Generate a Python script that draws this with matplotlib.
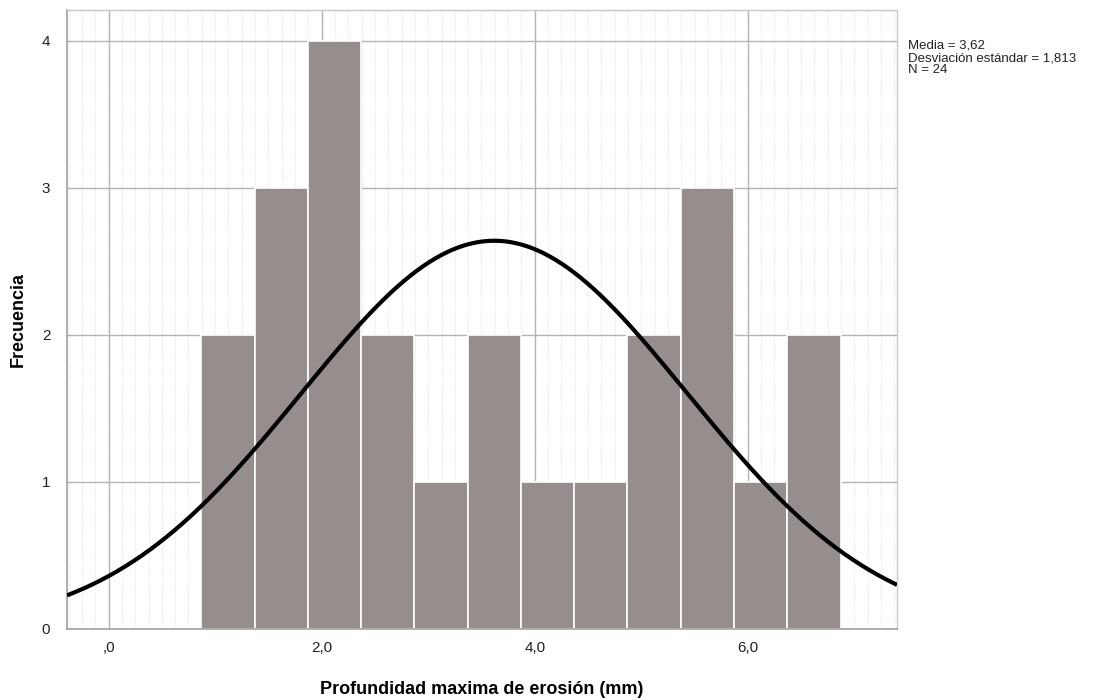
import numpy as np
import matplotlib
matplotlib.use("Agg")
import matplotlib.pyplot as plt

plt.rcParams['font.family'] = ['Liberation Sans', 'DejaVu Sans']

# Data
bin_edges = [0.87, 1.37, 1.87, 2.37, 2.87, 3.37, 3.87, 4.37, 4.87, 5.37, 5.87, 6.37, 6.87]
counts = [2, 3, 4, 2, 1, 2, 1, 1, 2, 3, 1, 2]
mean = 3.62
std = 1.813
n = 24
x_ticks = [0, 2, 4, 6]
x_ticklabels = [",0", "2,0", "4,0", "6,0"]
y_ticks = [0, 1, 2, 3, 4]
stats_text = "Media = 3,62\nDesviación estándar = 1,813\nN = 24"

fig = plt.figure(figsize=(11.11, 7.0), dpi=100)
ax = fig.add_axes([67/1111, 1 - 629/700, (897 - 67)/1111, (629 - 10)/700])

xmin, xmax = -0.39, 7.40
ymin, ymax = 0, 4.21
ax.set_xlim(xmin, xmax)
ax.set_ylim(ymin, ymax)

# minor dotted background grid
for xv in np.arange(-0.375, 7.4, 0.125):
    ax.axvline(xv, color='#e0e0e0', lw=0.8, ls=(0, (1, 1.5)), zorder=0)
# major grid
ax.set_xticks(x_ticks)
ax.set_xticklabels(x_ticklabels)
ax.set_yticks(y_ticks)
ax.grid(True, which='major', color='#b4b4b4', lw=1.0, zorder=0.5)
ax.set_axisbelow(True)

widths = np.diff(bin_edges)
ax.bar(bin_edges[:-1], counts, width=widths, align='edge', color='#968d8d',
       edgecolor='white', linewidth=1.2, zorder=2)

xs = np.linspace(xmin, xmax, 400)
bw = widths[0]
ys = n * bw / (std * np.sqrt(2 * np.pi)) * np.exp(-0.5 * ((xs - mean) / std) ** 2)
ax.plot(xs, ys, color='black', lw=3, zorder=3, solid_capstyle='butt')

for s in ['top', 'right']:
    ax.spines[s].set_color('#c8c8c8')
    ax.spines[s].set_linewidth(1)
for s in ['left', 'bottom']:
    ax.spines[s].set_color('#a0a0a0')
    ax.spines[s].set_linewidth(1.2)

ax.tick_params(axis='both', length=0, labelsize=11, colors='#222222')
ax.tick_params(axis='x', pad=9)
ax.tick_params(axis='y', pad=12)

ax.set_xlabel("Profundidad maxima de erosión (mm)", fontsize=13, fontweight='bold', va='center')
ax.set_ylabel("Frecuencia", fontsize=13, fontweight='bold', va='center')
ax.xaxis.set_label_coords((482 - 67) / 830, (629 - 690) / 619)
ax.yaxis.set_label_coords((18 - 67) / 830, 0.5)

fig.text(908/1111, 1 - 40/700, stats_text, fontsize=9.5, va='top', ha='left',
         color='#222222', linespacing=1.02)

fig.savefig("out.png", dpi=100, facecolor='white')
